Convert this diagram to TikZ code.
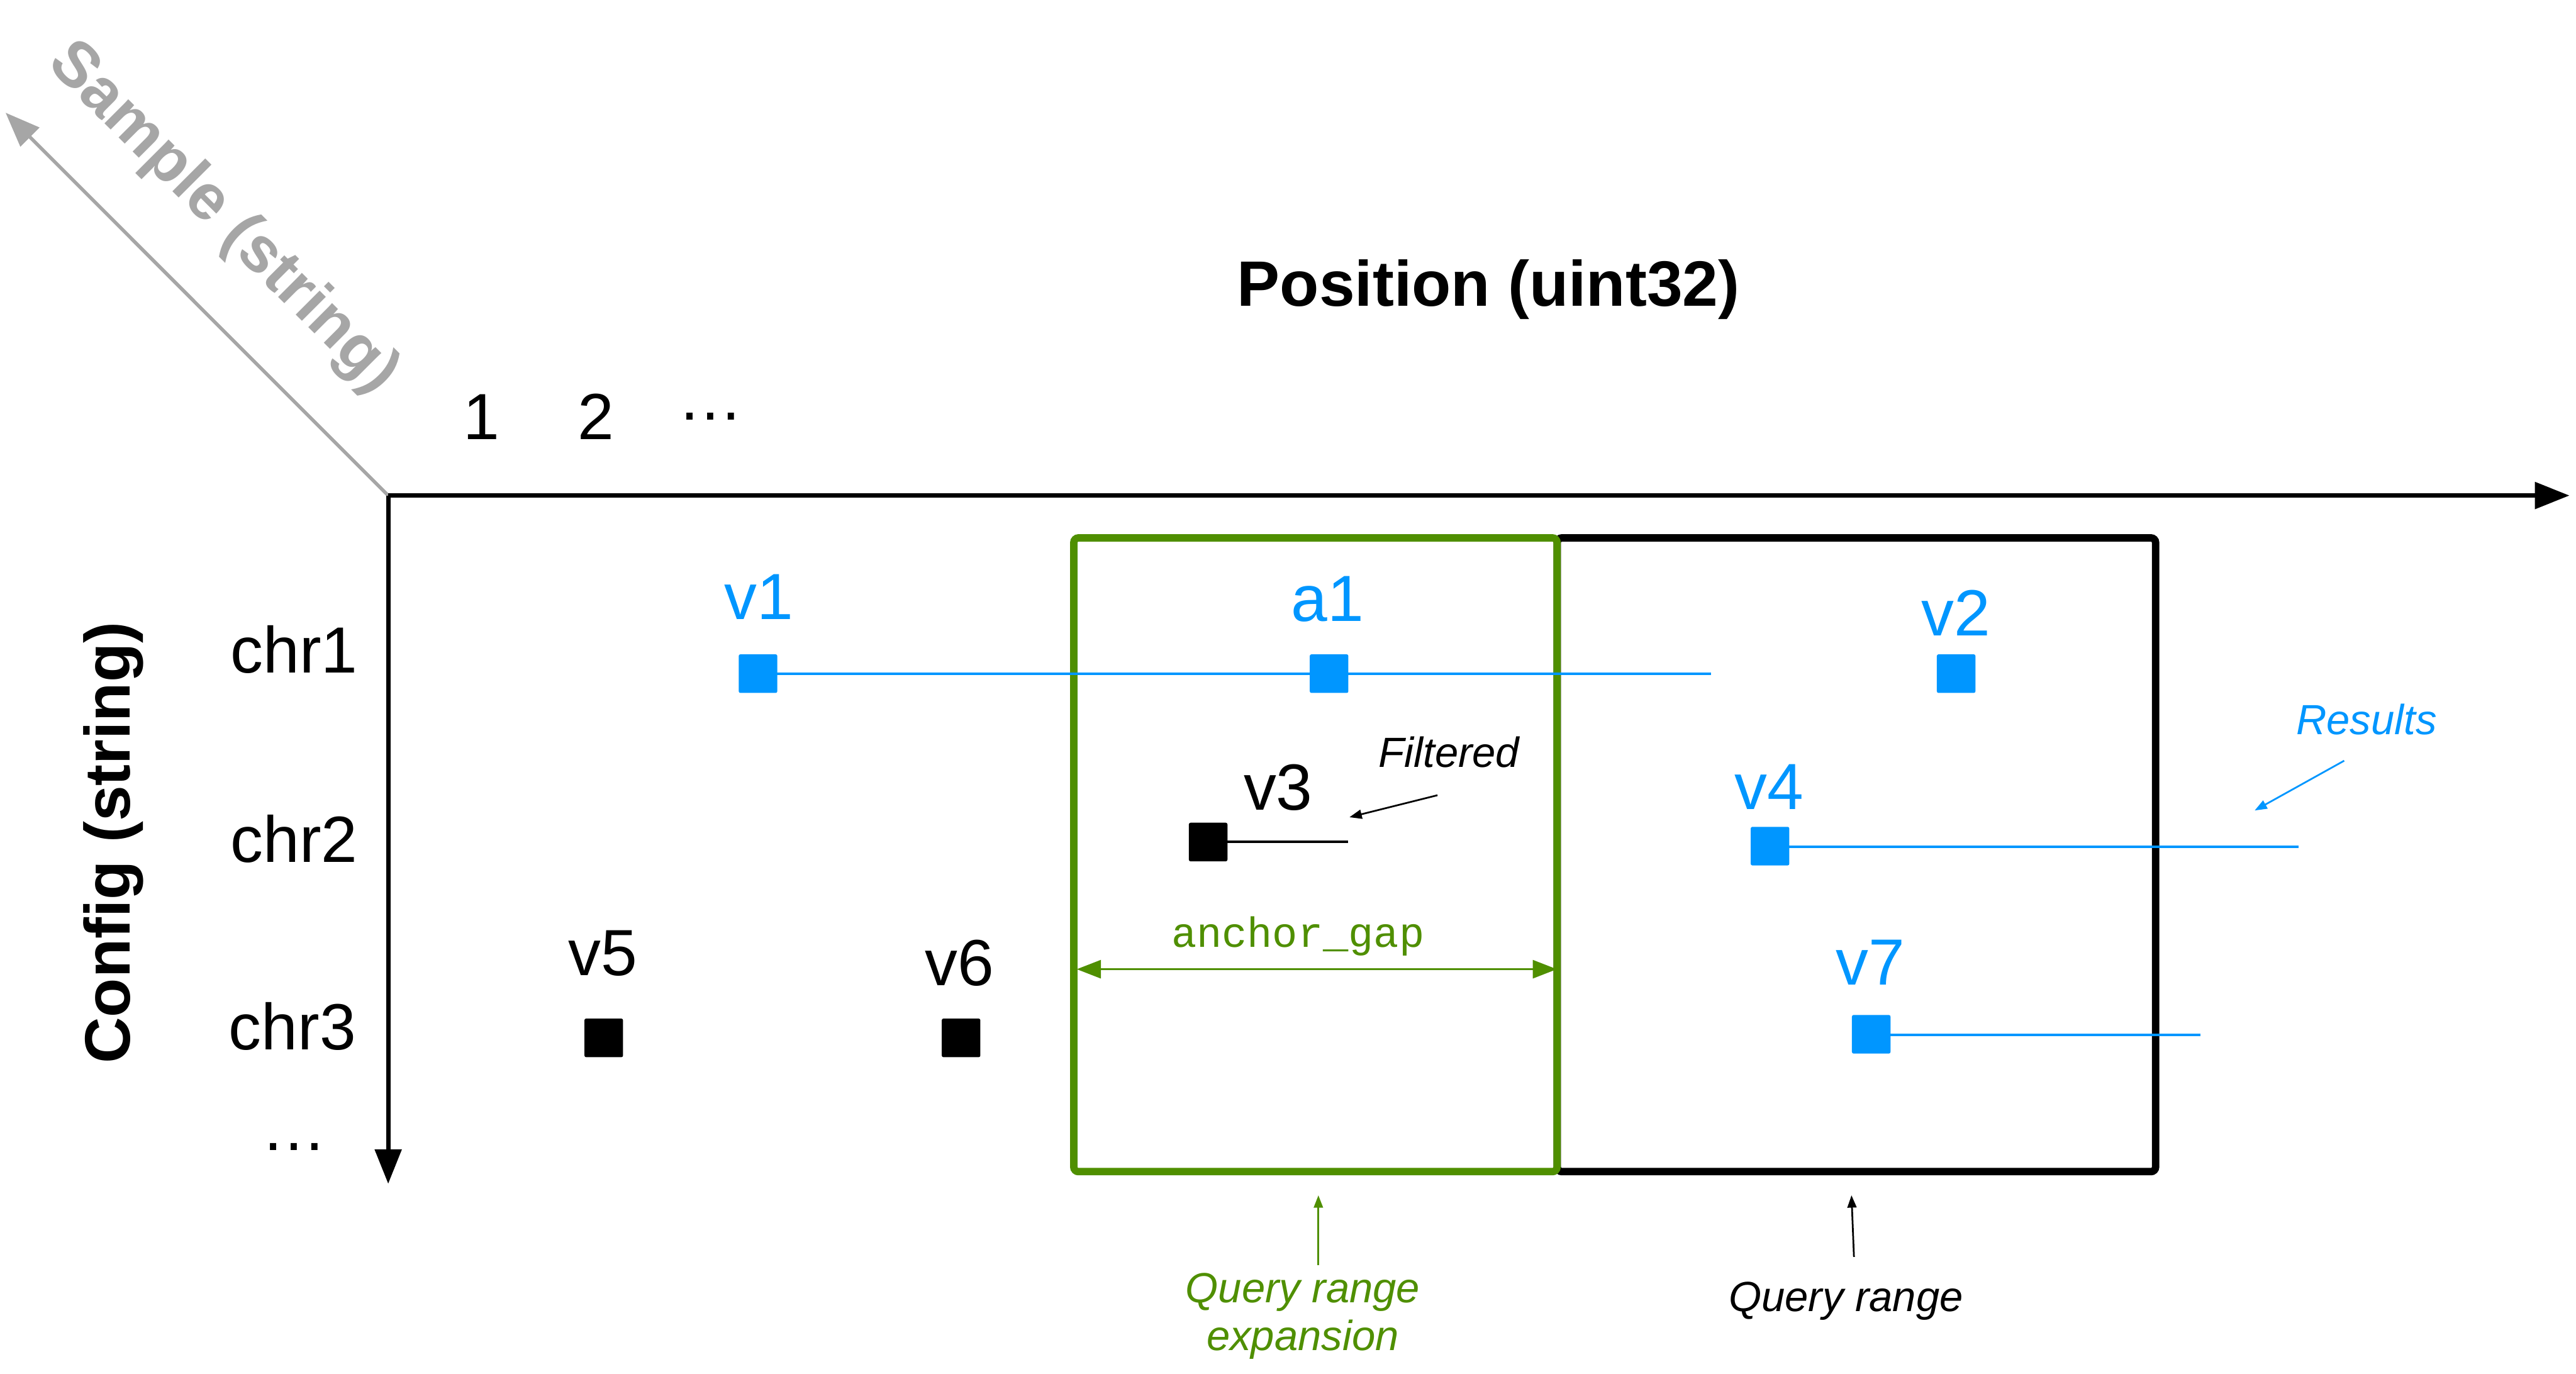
\documentclass[tikz,border=0pt]{standalone}
\usepackage{fontspec}
\setmainfont{Liberation Sans}
\newfontfamily\monofont{Liberation Mono}
\usetikzlibrary{arrows.meta}
\definecolor{vblue}{HTML}{0096FF}
\definecolor{qgreen}{HTML}{4F8F00}
\definecolor{sgray}{HTML}{A6A6A6}
\begin{document}
\begin{tikzpicture}[x=0.01cm,y=-0.01cm,
  lbl/.style={inner sep=0pt, anchor=base, font=\fontsize{11.3}{13}\selectfont},
  blbl/.style={lbl, text=vblue},
  axtitle/.style={inner sep=0pt, font=\fontsize{11.1}{13}\selectfont\bfseries},
  note/.style={inner sep=0pt, anchor=base, font=\fontsize{7.3}{8.3}\selectfont\itshape},
  sqr/.style={draw=none, minimum size=0.235cm, inner sep=0pt, rounded corners=0.3pt},
  bsq/.style={sqr, fill=vblue},
  ksq/.style={sqr, fill=black},
  axisline/.style={line width=0.74pt, -{Triangle[length=0.21cm,width=0.16cm]}},
  bline/.style={draw=vblue, line width=0.43pt},
  kline/.style={draw=black, line width=0.43pt},
  qbox/.style={draw=black, line width=1.28pt, inner sep=0pt, rounded corners=0.8pt,
               minimum width=3.64cm, minimum height=3.855cm},
  gbox/.style={draw=qgreen, line width=1.28pt, inner sep=0pt, rounded corners=0.8pt,
               minimum width=2.94cm, minimum height=3.855cm},
  thinarrow/.style={line width=0.3pt, -{Triangle[length=0.075cm,width=0.055cm]}},
]
\useasboundingbox (0,0) rectangle (1568,835.9);

% axes
\coordinate (O) at (236.3,301.6);
\coordinate (xend) at (1564,301.6);
\coordinate (yend) at (236.3,720.5);
\coordinate (send) at (3.4,68.6);
\draw[axisline, draw=sgray, fill=sgray, line width=0.6pt] (O) -- (send);
\draw[axisline] (O) -- (xend);
\draw[axisline] (O) -- (yend);

% axis titles
\node[axtitle, anchor=base] (postitle) at (906,186.3) {Position (uint32)};
\node[axtitle, rotate=90] (cfgtitle) at (69,513) {Config (string)};
\node[axtitle, rotate=-45, text=sgray] (smptitle) at (135.5,133) {Sample (string)};

% ticks
\node[lbl] (p1) at (293,267.5) {1};
\node[lbl] (p2) at (362.6,267.5) {2};
\node[lbl] (pdots) at (432.5,255.7) {…};
\node[lbl] (chr1) at (179,409.7) {chr1};
\node[lbl] (chr2) at (179,524.6) {chr2};
\node[lbl] (chr3) at (178,638.7) {chr3};
\node[lbl] (cdots) at (179,700) {…};

% query boxes
\node[qbox] (qr) at (1130,520.25) {};
\node[gbox] (qre) at (800.7,520.25) {};

% coordinates for line ends
\coordinate (v1end) at (1041.5,410);
\coordinate (v3end) at (820.6,512.5);
\coordinate (v4end) at (1399,515.5);
\coordinate (v7end) at (1339.3,630);

% lines
\draw[bline] (461.4,410) -- (v1end);
\draw[kline] (735.4,512.5) -- (v3end);
\draw[bline] (1077.4,515.5) -- (v4end);
\draw[bline] (1139,630) -- (v7end);

% squares
\node[bsq] (v1) at (461.4,410) {};
\node[bsq] (a1) at (809,410) {};
\node[bsq] (v2) at (1190.7,410) {};
\node[ksq] (v3) at (735.4,512.5) {};
\node[bsq] (v4) at (1077.4,515) {};
\node[ksq] (v5) at (367.5,631.7) {};
\node[ksq] (v6) at (585,631.7) {};
\node[bsq] (v7) at (1139,629.5) {};

% square labels
\node[blbl] (v1l) at (462,377) {v1};
\node[blbl] (a1l) at (808,378) {a1};
\node[blbl] (v2l) at (1190.5,387) {v2};
\node[lbl] (v3l) at (778,493) {v3};
\node[blbl] (v4l) at (1077,492.8) {v4};
\node[lbl] (v5l) at (367,593.7) {v5};
\node[lbl] (v6l) at (584,599.8) {v6};
\node[blbl] (v7l) at (1138.5,599.6) {v7};

% annotations
\node[note] (filt) at (882,467) {Filtered};
\coordinate (filtA) at (875,484);
\coordinate (filtB) at (821.4,497.4);
\draw[thinarrow] (filtA) -- (filtB);

\node[note, text=vblue] (res) at (1440.5,446.9) {Results};
\coordinate (resA) at (1426.9,463);
\coordinate (resB) at (1372.4,493.3);
\draw[thinarrow, draw=vblue, fill=vblue] (resA) -- (resB);

\node[inner sep=0pt, anchor=base, text=qgreen, font=\fontsize{7.3}{8.3}\selectfont\monofont] (gap) at (790,576.4) {anchor\_gap};
\coordinate (gapL) at (655.4,589.9);
\coordinate (gapR) at (947.7,589.9);
\draw[draw=qgreen, fill=qgreen, line width=0.4pt, {Triangle[length=0.147cm,width=0.11cm]}-{Triangle[length=0.147cm,width=0.11cm]}] (gapL) -- (gapR);

\node[note, text=qgreen] (qrel1) at (793,792.9) {Query range};
\node[note, text=qgreen] (qrel2) at (793,822) {expansion};
\coordinate (qreA) at (802.5,769.9);
\coordinate (qreB) at (802.5,727.5);
\draw[thinarrow, draw=qgreen, fill=qgreen] (qreA) -- (qreB);

\node[note] (qrl) at (1123.6,798) {Query range};
\coordinate (qrA) at (1128.5,765);
\coordinate (qrB) at (1127,727.5);
\draw[thinarrow] (qrA) -- (qrB);
\end{tikzpicture}
\end{document}
